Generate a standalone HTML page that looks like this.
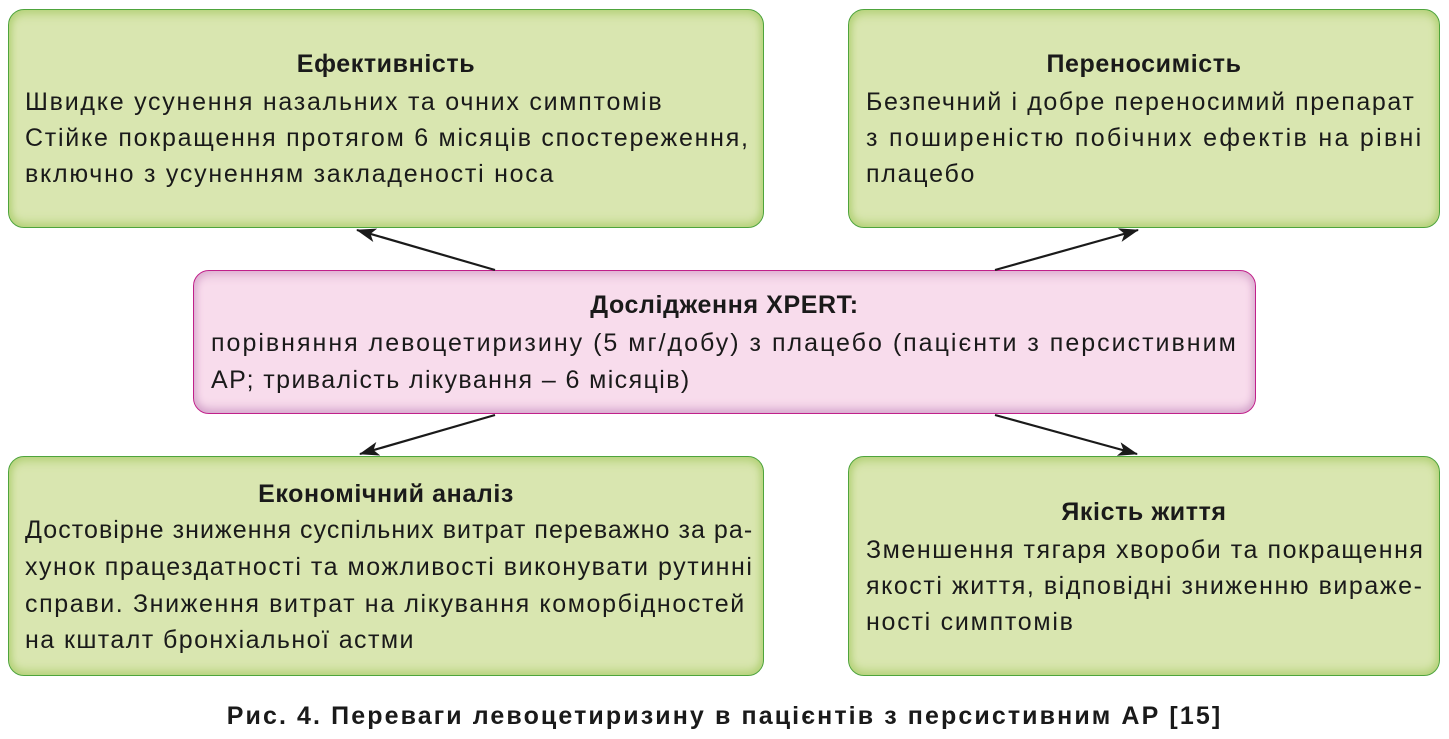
<!DOCTYPE html>
<html><head><meta charset="utf-8"><style>
body{margin:0;width:1449px;height:739px;background:#fff;position:relative;overflow:hidden;font-family:"Liberation Sans","DejaVu Sans",sans-serif;color:#1a1a1a}
.b{position:absolute;border-radius:16px;box-sizing:border-box}
.g{background:#d9e6b0;border:1.5px solid #4ea43c;box-shadow:inset 0 8px 10px -4px #b5d27a,inset 0 -8px 10px -4px #b5d27a,inset 6px 0 8px -4px #b5d27a,inset -6px 0 8px -4px #b5d27a}
.p{background:#f8dcec;border:1.5px solid #c0208a;box-shadow:inset 0 8px 10px -4px #dcaed0,inset 0 -8px 10px -4px #d4a6cc,inset 6px 0 8px -4px #dcaed0,inset -6px 0 8px -4px #dcaed0}
.t{position:absolute;font-size:25px;white-space:nowrap;line-height:1;letter-spacing:1.75px}
.h{font-weight:bold;letter-spacing:0.6px}
</style></head><body>
<div class="b g" style="left:8px;top:9px;width:756px;height:219px"></div>
<div class="b g" style="left:848px;top:9px;width:592px;height:219px"></div>
<div class="b p" style="left:193px;top:270px;width:1063px;height:144px"></div>
<div class="b g" style="left:8px;top:456px;width:756px;height:220px"></div>
<div class="b g" style="left:848px;top:456px;width:592px;height:220px"></div>

<svg style="position:absolute;left:0;top:0" width="1449" height="739">
<defs>
<marker id="m" viewBox="0 0 20 14" markerWidth="20" markerHeight="14" refX="19" refY="7" orient="auto" markerUnits="userSpaceOnUse"><path d="M0,0 L20,7 L0,14 L5,7z" fill="#1a1a1a"/></marker></defs>
<g stroke="#1a1a1a" stroke-width="2.2" fill="none">
<line x1="495" y1="270" x2="357" y2="230" marker-end="url(#m)"/>
<line x1="995" y1="270" x2="1138" y2="230" marker-end="url(#m)"/>
<line x1="495" y1="415" x2="360" y2="454" marker-end="url(#m)"/>
<line x1="995" y1="415" x2="1137" y2="454" marker-end="url(#m)"/>
</g></svg>

<div class="t h" style="left:8px;width:756px;text-align:center;top:52px">Ефективність</div>
<div class="t" style="left:25px;top:90px">Швидке усунення назальних та очних симптомів</div>
<div class="t" style="left:25px;top:126px">Стійке покращення протягом 6 місяців спостереження,</div>
<div class="t" style="left:25px;top:162px">включно з усуненням закладеності носа</div>

<div class="t h" style="left:848px;width:592px;text-align:center;top:52px">Переносимість</div>
<div class="t" style="left:866px;top:90px;letter-spacing:1.6px">Безпечний і добре переносимий препарат</div>
<div class="t" style="left:866px;top:126px;letter-spacing:2.3px">з поширеністю побічних ефектів на рівні</div>
<div class="t" style="left:866px;top:162px">плацебо</div>

<div class="t h" style="left:193px;width:1063px;text-align:center;top:293px">Дослідження XPERT:</div>
<div class="t" style="left:211px;top:331px;letter-spacing:2.0px">порівняння левоцетиризину (5 мг/добу) з плацебо (пацієнти з персистивним</div>
<div class="t" style="left:211px;top:368px;letter-spacing:1.4px">АР; тривалість лікування – 6 місяців)</div>

<div class="t h" style="left:8px;width:756px;text-align:center;top:482px">Економічний аналіз</div>
<div class="t" style="left:25px;top:518px;letter-spacing:1.05px">Достовірне зниження суспільних витрат переважно за ра-</div>
<div class="t" style="left:25px;top:555px;letter-spacing:1.53px">хунок працездатності та можливості виконувати рутинні</div>
<div class="t" style="left:25px;top:592px;letter-spacing:1.62px">справи. Зниження витрат на лікування коморбідностей</div>
<div class="t" style="left:25px;top:628px;letter-spacing:1.43px">на кшталт бронхіальної астми</div>

<div class="t h" style="left:848px;width:592px;text-align:center;top:500px">Якість життя</div>
<div class="t" style="left:866px;top:538px;letter-spacing:1.55px">Зменшення тягаря хвороби та покращення</div>
<div class="t" style="left:866px;top:574px;letter-spacing:1.55px">якості життя, відповідні зниженню вираже-</div>
<div class="t" style="left:866px;top:610px">ності симптомів</div>

<div class="t h" style="left:0;width:1449px;text-align:center;top:704px;font-size:25px;letter-spacing:2.1px">Рис. 4. Переваги левоцетиризину в пацієнтів з персистивним АР [15]</div>
</body></html>
